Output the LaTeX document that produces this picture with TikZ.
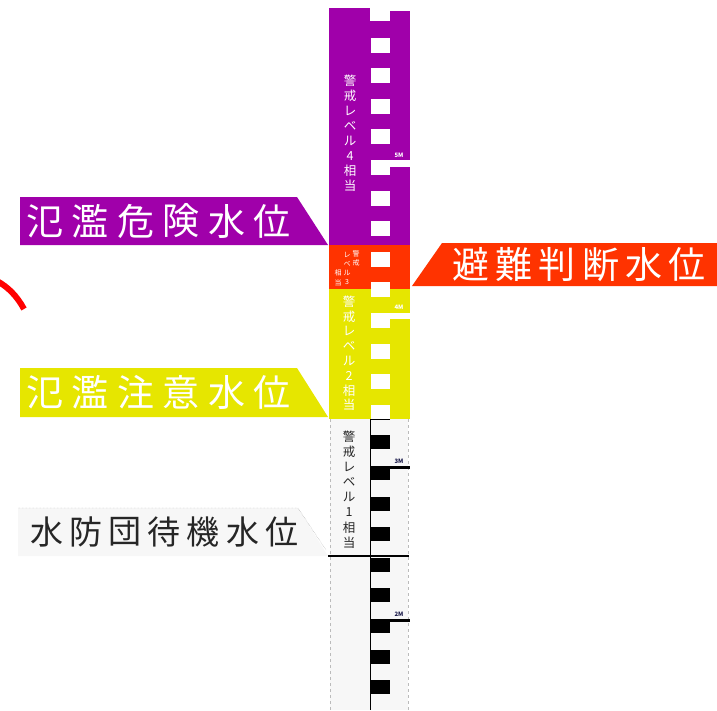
\documentclass[tikz,border=0pt]{standalone}
\usepackage{fontspec}
\setmainfont{Noto Sans CJK JP}
\definecolor{cpurple}{HTML}{A000AA}
\definecolor{cred}{HTML}{FF3300}
\definecolor{carc}{HTML}{FF0000}
\definecolor{cyellow}{HTML}{E6E600}
\definecolor{cgrayfill}{HTML}{F7F7F7}
\definecolor{cdash}{HTML}{BBBBBB}
\definecolor{cnavy}{HTML}{1A1A4A}
\begin{document}
\begin{tikzpicture}[x=1pt,y=-1pt,
  bigchar/.style={font=\fontsize{37}{37}\selectfont, inner sep=0pt, text=white},
  midchar/.style={font=\fontsize{33}{33}\selectfont, inner sep=0pt, text=black!85},
  vchar/.style={font=\fontsize{12.5}{12.5}\selectfont, inner sep=0pt},
  tinychar/.style={font=\fontsize{7}{7}\selectfont, inner sep=0pt, text=white},
  meter/.style={font=\fontsize{6}{6}\selectfont\bfseries, inner sep=0pt}]
\useasboundingbox (0,0) rectangle (717,710);

% lower (white) part of the gauge
\fill[cgrayfill] (330,419) rectangle (408,710);
\draw[cdash, dashed] (330,419) -- (330,710);
\draw[cdash, dashed] (408,419) -- (408,710);

% coloured bands
\fill[cpurple] (329,8) rectangle (369.5,245);
\fill[cpurple] (369,21) rectangle (390.5,245);
\fill[cpurple] (390,11) rectangle (410,245);
\fill[cred] (329,245) rectangle (410,289);
\fill[cyellow] (329,289) rectangle (410,419);

% graduation squares
\foreach \k in {0,...,12}
  \fill[white] (370.5,{37.6+30.6*\k}) rectangle (390,{37.6+30.6*\k+15});
\foreach \k in {13,...,21}
  \fill[black] (371,{37.6+30.6*\k}) rectangle (390,{37.6+30.6*\k+14});
\draw[black, line width=0.8] (370.5,419) -- (370.5,710);
\draw[black, line width=1.6] (370.5,419.5) -- (390,419.5);

% metre marks
\fill[white] (390,160) rectangle (410,166.5);
\fill[white] (390,313) rectangle (410,319);
\fill[black] (371,466) rectangle (410,469);
\fill[black] (371,619) rectangle (410,622);
\node[meter, text=white] (m5) at (399,155) {5M};
\node[meter, text=white] (m4) at (399,307) {4M};
\node[meter, text=cnavy] (m3) at (399,461) {3M};
\node[meter, text=cnavy] (m2) at (399,614) {2M};

% standby level line
\draw[black, line width=1.6] (328,556) -- (409,556);

% vertical texts in the column
\foreach \c [count=\i from 0] in {警,戒,レ,ベ,ル,4,相,当}
  \node[vchar, text=white] (lv4-\i) at (350,{81+15*\i}) {\c};
\foreach \c [count=\i from 0] in {警,戒,レ,ベ,ル,2,相,当}
  \node[vchar, text=white] (lv2-\i) at (349,{301.5+14.8*\i}) {\c};
\foreach \c [count=\i from 0] in {警,戒,レ,ベ,ル,1,相,当}
  \node[vchar, text=black!85] (lv1-\i) at (349,{437+15.1*\i}) {\c};
% level 3 (three small columns)
\foreach \c [count=\i from 0] in {警,戒}
  \node[tinychar] (lv3a-\i) at (356,{254+8.5*\i}) {\c};
\foreach \c [count=\i from 0] in {レ,ベ,ル,3}
  \node[tinychar] (lv3b-\i) at (347,{255+9*\i}) {\c};
\foreach \c [count=\i from 0] in {相,当}
  \node[tinychar] (lv3c-\i) at (338,{273+9.5*\i}) {\c};

% label: 氾濫危険水位
\fill[cpurple] (20,197) -- (297,197) -- (328,245) -- (20,245) -- cycle;
\foreach \c [count=\i from 0] in {氾,濫,危,険,水,位}
  \node[bigchar] (kiken-\i) at ({45+45.4*\i},221) {\c};

% label: 氾濫注意水位
\fill[cyellow] (20,368) -- (297,368) -- (328,417) -- (20,417) -- cycle;
\foreach \c [count=\i from 0] in {氾,濫,注,意,水,位}
  \node[bigchar] (chui-\i) at ({45+45.4*\i},392.5) {\c};

% label: 避難判断水位
\fill[cred] (412,286) -- (442,243) -- (717,243) -- (717,286) -- cycle;
\foreach \c [count=\i from 0] in {避,難,判,断,水,位}
  \node[bigchar] (hinan-\i) at ({471+43.2*\i},264.5) {\c};

% label: 水防団待機水位
\fill[cgrayfill] (18,508) -- (298,508) -- (328,556) -- (18,556) -- cycle;
\draw[black!45, densely dotted] (18,508) -- (298,508) -- (326,550);
\foreach \c [count=\i from 0] in {水,防,団,待,機,水,位}
  \node[midchar] (taiki-\i) at ({46.5+39.2*\i},532) {\c};

% red arc at left edge
\draw[carc, line width=6] (-3,281) .. controls (8,287) and (17,296) .. (24,309);
\end{tikzpicture}
\end{document}
